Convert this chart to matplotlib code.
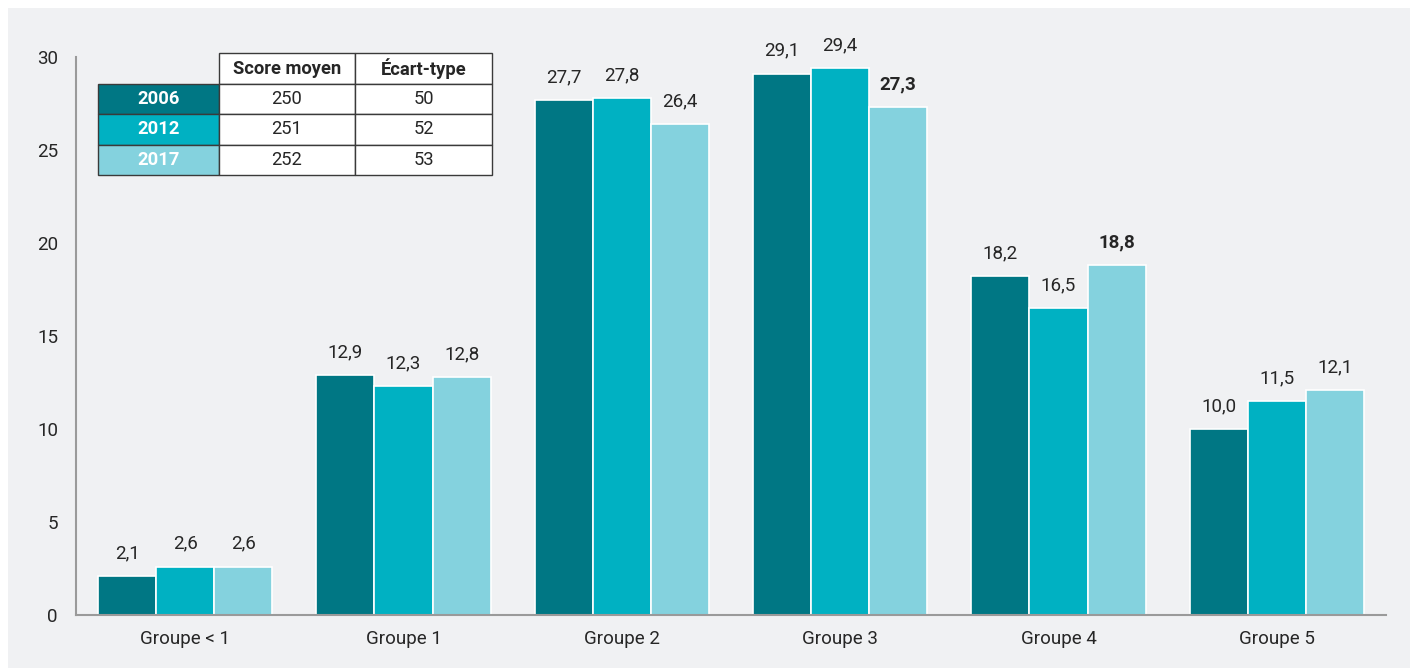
import matplotlib
matplotlib.use("Agg")
import matplotlib.pyplot as plt
from matplotlib.patches import Rectangle
import numpy as np

categories = ["Groupe < 1", "Groupe 1", "Groupe 2", "Groupe 3", "Groupe 4", "Groupe 5"]
years = ["2006", "2012", "2017"]
v2006 = [2.1, 12.9, 27.7, 29.1, 18.2, 10.0]
v2012 = [2.6, 12.3, 27.8, 29.4, 16.5, 11.5]
v2017 = [2.6, 12.8, 26.4, 27.3, 18.8, 12.1]
bold_labels = {(3, 2), (4, 2)}  # (group, series) shown in bold
table_cols = ["Score moyen", "Écart-type"]
table_score = ["250", "251", "252"]
table_sd = ["50", "52", "53"]
yticks = [0, 5, 10, 15, 20, 25, 30]

colors = ["#007784", "#00b1c2", "#84d2de"]
bg = "#f0f1f3"
text_c = "#262626"

plt.rcParams['font.family'] = ['Roboto', 'DejaVu Sans']

W, H = 1418, 668
fig = plt.figure(figsize=(W / 100, H / 100), dpi=100, facecolor="white")
# gray panel
fig.patches.append(Rectangle((8 / W, 0), (W - 16) / W, (H - 8) / H,
                             transform=fig.transFigure, facecolor=bg, edgecolor="none", zorder=-10))

ax = fig.add_axes([76 / W, (H - 615) / H, (1386 - 76) / W, (615 - 57) / H])
ax.set_facecolor("none")
series = [v2006, v2012, v2017]
x = np.arange(len(categories))
bw = 0.266
for s, vals in enumerate(series):
    xs = x + (s - 1) * bw
    ax.bar(xs, vals, width=bw, color=colors[s], edgecolor="white", linewidth=1.2, zorder=2)
    for g, (xi, v) in enumerate(zip(xs, vals)):
        ax.annotate(f"{v:.1f}".replace(".", ","), (xi, v), xytext=(0, 10), textcoords="offset points",
                    ha="center", va="bottom", fontsize=13.5, color=text_c,
                    fontweight="bold" if (g, s) in bold_labels else "normal")

ax.set_xlim(-0.5, len(categories) - 0.5)
ax.set_ylim(0, 30)
ax.set_yticks(yticks)
ax.set_yticklabels([str(t) for t in yticks])
ax.set_xticks(x)
ax.set_xticklabels(categories)
ax.tick_params(axis="both", length=0, labelsize=13.5, colors=text_c)
ax.tick_params(axis="y", pad=13)
ax.tick_params(axis="x", pad=11)
for sp in ["top", "right"]:
    ax.spines[sp].set_visible(False)
for sp in ["left", "bottom"]:
    ax.spines[sp].set_color("#9a9a9a")
    ax.spines[sp].set_linewidth(1.5)

# table overlay in pixel coordinates
ov = fig.add_axes([0, 0, 1, 1])
ov.set_xlim(0, W)
ov.set_ylim(H, 0)
ov.axis("off")
ov.set_facecolor("none")
col_x = [98, 219, 355, 492]
row_y = [53, 84, 114, 145, 175]
edge = "#3a3a3a"
fs_t = 13.2
# header cells
for j, name in enumerate(table_cols):
    x0, x1 = col_x[j + 1], col_x[j + 2]
    ov.add_patch(Rectangle((x0, row_y[0]), x1 - x0, row_y[1] - row_y[0], facecolor="white", edgecolor=edge, lw=1))
    ov.text((x0 + x1) / 2, (row_y[0] + row_y[1]) / 2, name, ha="center", va="center",
            fontsize=fs_t, fontweight="bold", color=text_c)
for i, yr in enumerate(years):
    y0, y1 = row_y[i + 1], row_y[i + 2]
    ov.add_patch(Rectangle((col_x[0], y0), col_x[1] - col_x[0], y1 - y0, facecolor=colors[i], edgecolor=edge, lw=1))
    ov.text((col_x[0] + col_x[1]) / 2, (y0 + y1) / 2, yr, ha="center", va="center",
            fontsize=fs_t, fontweight="bold", color="white")
    for j, val in enumerate([table_score[i], table_sd[i]]):
        x0, x1 = col_x[j + 1], col_x[j + 2]
        ov.add_patch(Rectangle((x0, y0), x1 - x0, y1 - y0, facecolor="white", edgecolor=edge, lw=1))
        ov.text((x0 + x1) / 2, (y0 + y1) / 2, val, ha="center", va="center", fontsize=fs_t, color=text_c)

fig.savefig("out.png", dpi=100, facecolor=fig.get_facecolor())
